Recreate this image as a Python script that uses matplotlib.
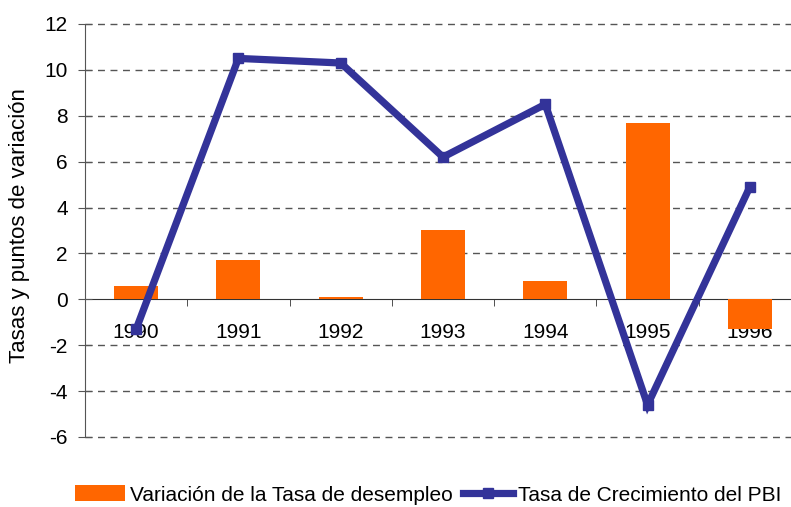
import matplotlib
matplotlib.use("Agg")
import matplotlib.pyplot as plt
import numpy as np
from matplotlib.lines import Line2D
from matplotlib.patches import Patch

plt.rcParams['font.family'] = ['Liberation Sans', 'DejaVu Sans']

years = ["1990", "1991", "1992", "1993", "1994", "1995", "1996"]
desempleo = [0.6, 1.7, 0.1, 3.0, 0.8, 7.7, -1.3]
pbi = [-1.3, 10.5, 10.3, 6.2, 8.5, -4.6, 4.9]
yticks = [-6, -4, -2, 0, 2, 4, 6, 8, 10, 12]

W, H = 791, 507
fig = plt.figure(figsize=(W/100, H/100), dpi=100)
left, right = 85, 801
top, bottom = 24, 437
ax = fig.add_axes([left/W, 1 - bottom/H, (right-left)/W, (bottom-top)/H])

x = np.arange(len(years))
orange = "#FF6600"
blue = "#333399"
fs = 15

ax.bar(x, desempleo, width=0.43, color=orange, zorder=2)
ax.plot(x, pbi, color=blue, linewidth=5.2, marker='s', markersize=7,
        solid_joinstyle='miter', zorder=3)

ax.set_xlim(-0.5, len(years) - 0.5)
ax.set_ylim(-6, 12)
ax.set_yticks(yticks)
ax.set_yticklabels([str(v) for v in yticks], fontsize=fs)
for v in yticks:
    if v != 0:
        ax.axhline(v, color="#555555", linestyle=(0, (5, 4)), linewidth=1.0,
                   zorder=1, clip_on=False)

for s in ['top', 'right']:
    ax.spines[s].set_visible(False)
ax.spines['bottom'].set_position(('data', 0))
ax.spines['bottom'].set_color('#333333')
ax.spines['left'].set_color('#555555')
ax.spines['bottom'].set_zorder(1)

ax.set_xticks(x)
ax.set_xticklabels(years, fontsize=fs)
ax.tick_params(axis='x', which='major', length=0, pad=17)
ax.set_xticks(np.arange(-0.5, len(years)), minor=True)
ax.tick_params(axis='x', which='minor', length=5, direction='out', color='#333333')
ax.tick_params(axis='y', length=10, direction='inout', color='#555555', pad=7.5)

fig.text(20/W, 1 - 226/H, "Tasas y puntos de variación", rotation=90,
         fontsize=16, ha='center', va='center')

handles = [Patch(facecolor=orange, edgecolor='none'),
           Line2D([0], [0], color=blue, linewidth=5.2, marker='s', markersize=7)]
labels = ["Variación de la Tasa de desempleo", "Tasa de Crecimiento del PBI"]
fig.legend(handles, labels, loc='center', bbox_to_anchor=(428/W, 1 - 495/H),
           ncol=2, frameon=False, fontsize=fs, handlelength=2.4,
           handletextpad=0.25, columnspacing=0.5, handleheight=0.8)

fig.savefig("out.png", dpi=100)
